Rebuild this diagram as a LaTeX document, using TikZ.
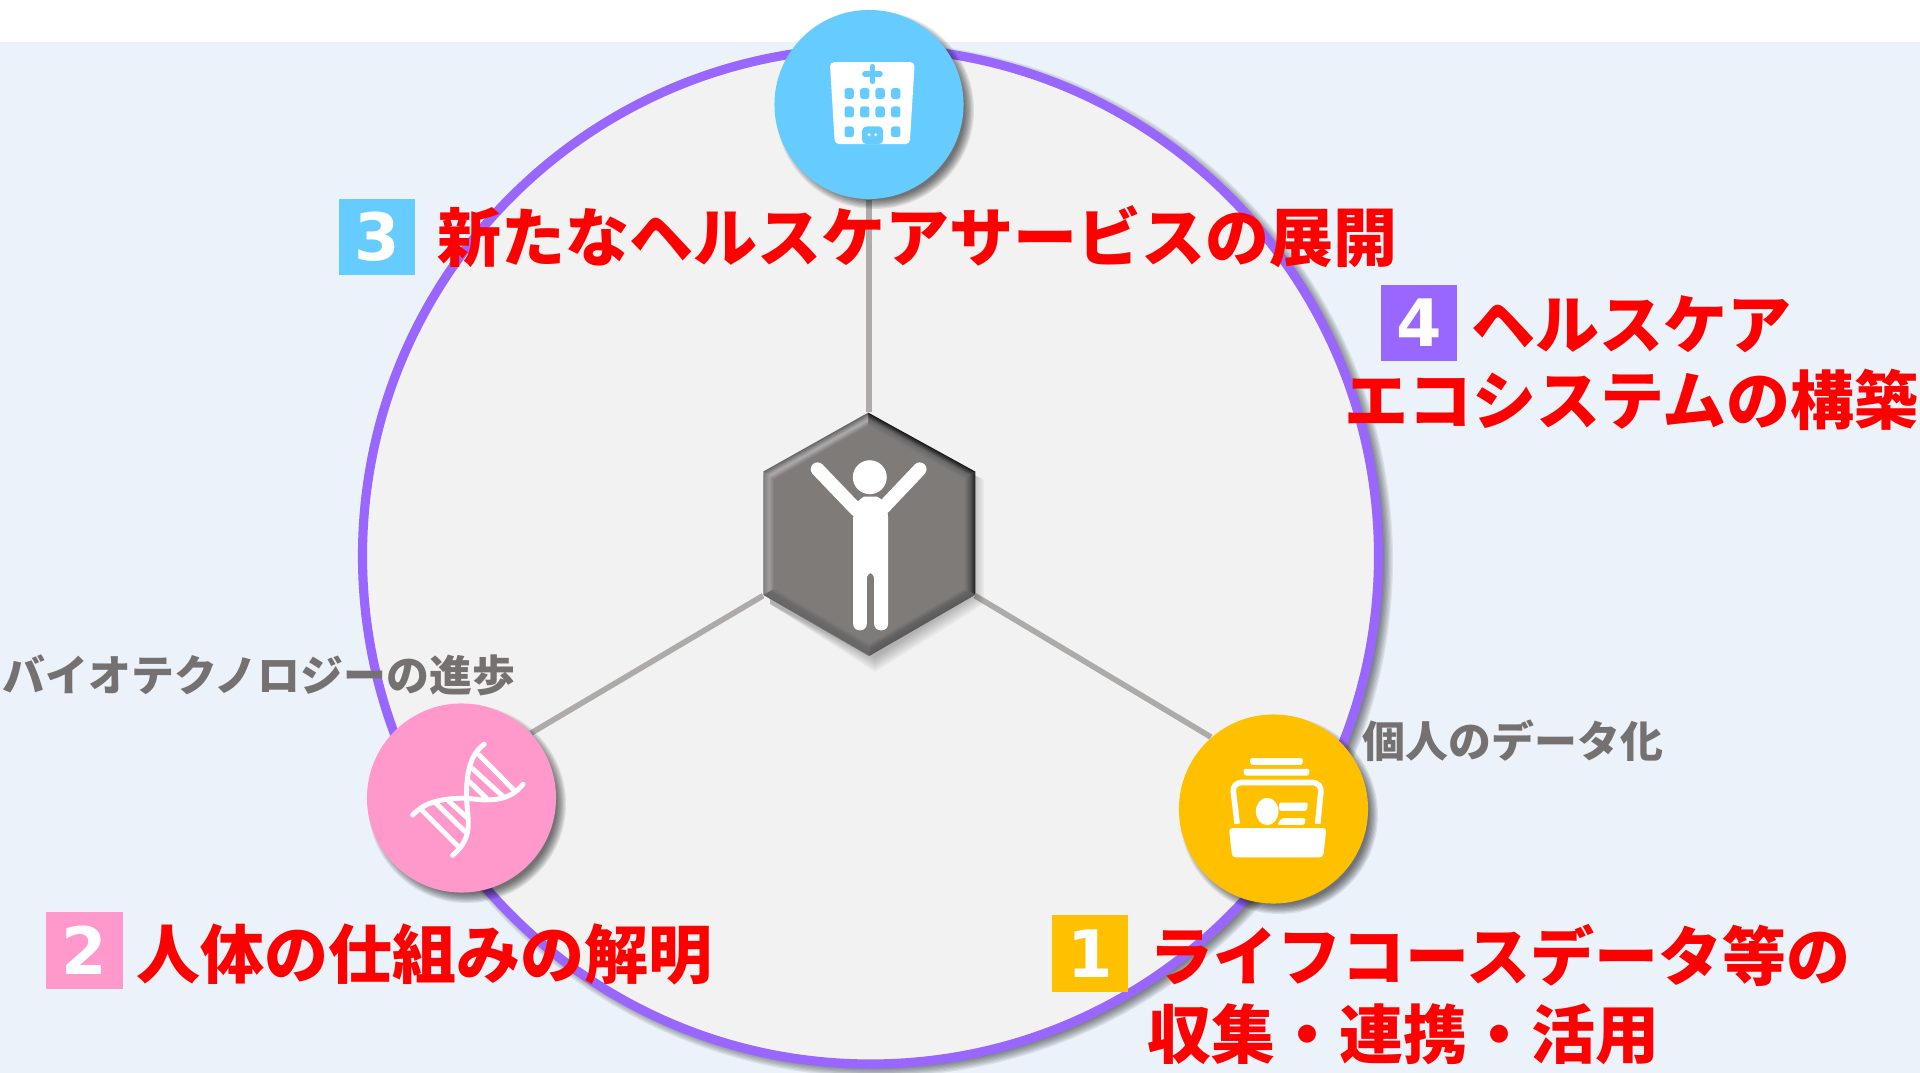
\documentclass[tikz,border=0pt]{standalone}
\usepackage{fontspec}
\usetikzlibrary{shapes.geometric,calc}
\newfontfamily\jpfont{Noto Sans CJK JP}
\newfontfamily\digitfont{DejaVu Sans}
\definecolor{bgblue}{HTML}{EBF2FA}
\definecolor{disk}{HTML}{F2F2F2}
\definecolor{ring}{HTML}{9966FF}
\definecolor{cblue}{HTML}{66CCFF}
\definecolor{cpink}{HTML}{FF99CC}
\definecolor{cyellow}{HTML}{FFC000}
\definecolor{linkgray}{HTML}{AEAAAA}
\definecolor{notegray}{HTML}{767171}
\definecolor{hexgray}{HTML}{7F7B79}
\pgfdeclarelayer{bgl}
\pgfdeclarelayer{conn}
\pgfsetlayers{bgl,conn,main}
\tikzset{
  bigtext/.style={inner sep=0pt,anchor=base west,text=red,font=\jpfont\bfseries\fontsize{18.2pt}{20pt}\selectfont},
  notetext/.style={inner sep=0pt,anchor=base west,text=notegray,font=\jpfont\bfseries\fontsize{12.2pt}{14pt}\selectfont},
  numbox/.style={inner sep=0pt,minimum size=0.76cm,text=white,font=\digitfont\bfseries\fontsize{18.6pt}{20pt}\selectfont},
  badge/.style={circle,inner sep=0pt,minimum size=1.89cm},
  link/.style={draw=linkgray,line width=1.6pt},
  zoomA/.style={shift={(#1)},x=0.003333cm,y=-0.003333cm},
}
% soft shadow: x, y, radius, opacity step
\newcommand{\softcircle}[4]{%
  \foreach \i in {0,...,7}{\fill[black,opacity=#4] (#1,#2) circle [radius={#3+5-\i*1.3}];}}
% bevel: outer a, outer b, inner b, inner a, colours outer, middle, inner
\newcommand{\bevelside}[7]{%
  \colorlet{bvO}{#5}\colorlet{bvM}{#6}\colorlet{bvI}{#7}%
  \foreach \k in {0,...,11}{
    \pgfmathsetmacro{\ta}{\k/12}
    \pgfmathsetmacro{\tb}{(\k+1.3)/12}
    \pgfmathsetmacro{\pa}{min(100,\k/5.5*100)}
    \pgfmathsetmacro{\pb}{max(0,min(100,(\k-6)/5*100))}
    \colorlet{bvtmp}{bvM!\pa!bvO}
    \colorlet{bvcol}{bvI!\pb!bvtmp}
    \fill[bvcol] ($#1!\ta!#4$) -- ($#2!\ta!#3$) -- ($#2!\tb!#3$) -- ($#1!\tb!#4$) -- cycle;
  }}
\begin{document}
\begin{tikzpicture}[x=0.01cm,y=-0.01cm]
\useasboundingbox (0,0) rectangle (1920,1073);
\begin{pgfonlayer}{bgl}
  \fill[white] (0,0) rectangle (1920,1073);
  \fill[bgblue] (0,42) rectangle (1920,1073);
  \softcircle{876}{560}{512}{0.07}
  \fill[disk] (870.5,556) circle [radius=508];
  \draw[ring,line width=2.6pt] (870.5,556) circle [radius=508];
\end{pgfonlayer}

% shadows of the badges and the hexagon
\softcircle{875}{110}{94}{0.085}
\softcircle{467}{804}{94}{0.085}
\softcircle{1279}{815}{94}{0.085}
\foreach \i in {0,...,7}{
  \fill[black,opacity=0.035] (869,{420-\i}) -- ({984-\i*1.6},{480-\i*0.8}) -- ({984-\i*1.6},{604-\i*1.2}) -- (875,{672-\i*2}) -- (770,604) -- (770,480) -- cycle;
}

\node[badge,fill=cblue] (nTop) at (869,104.5) {};
\node[badge,fill=cpink] (nPink) at (461.5,798) {};
\node[badge,fill=cyellow] (nYellow) at (1273.5,809) {};
\node[regular polygon,regular polygon sides=6,shape border rotate=30,inner sep=0pt,minimum size=2.43cm,fill=hexgray] (nHex) at (869,534.5) {};

\begin{pgfonlayer}{conn}
  \draw[link] (nTop.south) -- (nHex.corner 1);
  \draw[link] (nHex.corner 3) -- (nPink.43);
  \draw[link] (nHex.corner 5) -- (nYellow.131);
\end{pgfonlayer}

% hexagon bevel and person
\begin{scope}[zoomA={740,400}]
  \bevelside{(385,38)}{(707,215)}{(672,240)}{(385,80)}{black!90}{black!58}{hexgray}
  \bevelside{(707,215)}{(707,585)}{(672,565)}{(672,240)}{black!85}{black!62}{hexgray}
  \bevelside{(707,585)}{(390,768)}{(388,730)}{(672,565)}{black!65}{hexgray!80!black}{hexgray}
  \bevelside{(390,768)}{(70,585)}{(105,565)}{(388,730)}{black!60}{hexgray!85!black}{hexgray}
  \bevelside{(70,585)}{(70,215)}{(105,240)}{(105,565)}{black!50}{hexgray!75!white}{hexgray}
  \bevelside{(70,215)}{(385,38)}{(385,80)}{(105,240)}{black!60}{linkgray}{hexgray}
  \fill[white] (390,232) circle [radius=51];
  \draw[white,line width=3.9pt,line cap=round] (233,208) -- (350,330);
  \draw[white,line width=3.9pt,line cap=round] (540,208) -- (432,322);
  \fill[white,rounded corners=1.8pt] (340,340) .. controls (350,300) and (375,290) .. (392,290) .. controls (410,290) and (435,300) .. (445,340) -- (445,692) -- (403,692) -- (403,518) -- (381,518) -- (381,692) -- (340,692) -- cycle;
\end{scope}

% hospital icon
\begin{scope}[zoomA={740,0}]
  \fill[white,rounded corners=1.2pt] (270,187) -- (525,187) -- (510,433) -- (285,433) -- cycle;
  \foreach \yy/\hh in {265/32,320/33}{
    \foreach \xx in {314,361,407,454}{
      \fill[cblue,rounded corners=0.7pt] (\xx,\yy) rectangle ++(28,\hh);
    }
  }
  \foreach \xx in {314,454}{\fill[cblue,rounded corners=0.7pt] (\xx,380) rectangle ++(28,32);}
  \fill[cblue,rounded corners=1.2pt] (367,433) -- (367,380) -- (430,380) -- (430,433) -- cycle;
  \fill[white] (388,405) circle [radius=5];
  \fill[white] (408,405) circle [radius=5];
  \draw[cblue,line width=1.5pt,line cap=round] (398,200) -- (398,245);
  \draw[cblue,line width=1.5pt,line cap=round] (375,222) -- (421,222);
\end{scope}

% DNA icon
\begin{scope}[zoomA={350,690}]
  \begin{scope}[line width=1.4pt,line cap=round]
    \draw[white] (403,163) .. controls (360,195) and (350,250) .. (350,320) .. controls (352,390) and (375,440) .. (308,497);
    \draw[white] (188,376) .. controls (225,335) and (280,325) .. (350,325) .. controls (420,335) and (480,335) .. (520,283);
    \draw[white] (388,195) -- (492,300);
    \draw[white] (367,235) -- (460,320);
    \draw[white] (358,275) -- (410,325);
    \draw[white] (215,360) -- (325,470);
    \draw[white] (258,340) -- (345,425);
    \draw[white] (298,335) -- (350,382);
  \end{scope}
\end{scope}

% card box icon
\begin{scope}[zoomA={1160,700}]
  \fill[white,rounded corners=0.6pt] (270,175) -- (430,175) -- (428,195) -- (272,195) -- cycle;
  \fill[white,rounded corners=0.6pt] (250,207) -- (450,207) -- (447,227) -- (253,227) -- cycle;
  \draw[white,line width=1.6pt,rounded corners=2.6pt] (232,372) -- (217,248) -- (486,248) -- (474,372);
  \fill[white,rounded corners=1pt] (207,385) -- (500,385) -- (490,473) -- (217,473) -- cycle;
  \fill[white] (322,335) ellipse [x radius=34,y radius=41];
  \fill[white,rounded corners=0.6pt] (358,308) -- (445,308) -- (441,333) -- (358,333) -- cycle;
  \fill[white,rounded corners=0.6pt] (365,355) -- (438,355) -- (435,375) -- (352,375) -- cycle;
\end{scope}

% numbered boxes
\node[numbox,fill=cblue] (b3) at (377,237) {3};
\node[numbox,fill=ring] (b4) at (1419,323) {4};
\node[numbox,fill=cpink] (b2) at (84.5,950.5) {2};
\node[numbox,fill=cyellow] (b1) at (1090,953.5) {1};

% labels
\node[bigtext] (t3) at (437,262) {新たなヘルスケアサービスの展開};
\node[bigtext] (t4a) at (1471,349) {ヘルスケア};
\node[bigtext] (t4b) at (1344,425) {エコシステムの構築};
\node[bigtext] (t2) at (136,978) {人体の仕組みの解明};
\node[bigtext] (t1a) at (1149,980) {ライフコースデータ等の};
\node[bigtext] (t1b) at (1147,1058) {収集・連携・活用};
\node[notetext] (n2) at (2,692) {バイオテクノロジーの進歩};
\node[notetext] (n1) at (1362,757) {個人のデータ化};
\end{tikzpicture}
\end{document}
